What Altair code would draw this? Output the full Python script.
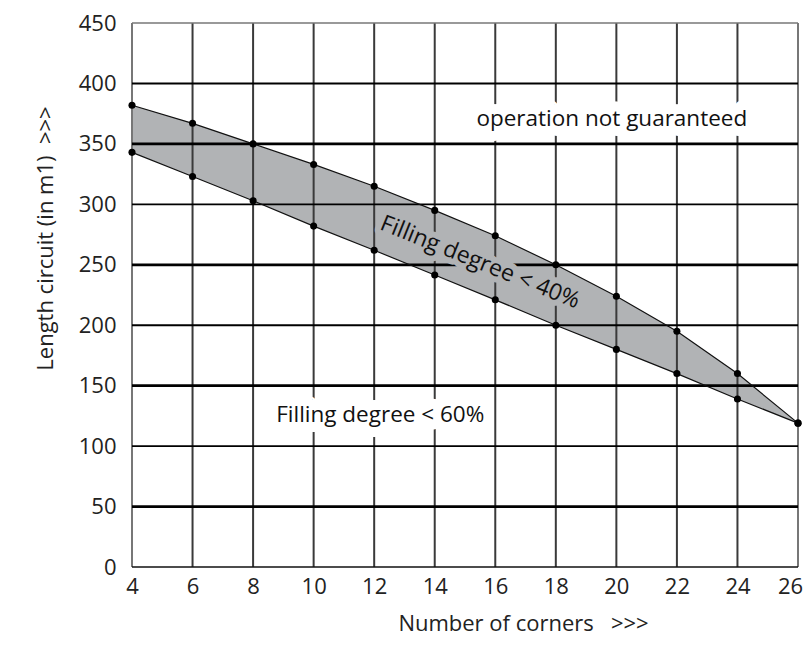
import altair as alt
import pandas as pd

corners = [4, 6, 8, 10, 12, 14, 16, 18, 20, 22, 24, 26]
upper = [382, 367, 350, 333, 315, 295, 274, 250, 224, 195, 160, 119]
lower = [343, 323, 303, 282, 262, 241.5, 221, 200, 180, 160, 139, 119]

x_ticks = [4, 6, 8, 10, 12, 14, 16, 18, 20, 22, 24, 26]
y_ticks = [0, 50, 100, 150, 200, 250, 300, 350, 400, 450]
y_thick = [50, 150, 250, 350]
y_thin = [100, 200, 300, 400]

labels_plain = ["operation not guaranteed", "Filling degree < 60%"]
labels_plain_x = [19.85, 12.2]
labels_plain_y = [371, 126]
label_band = "Filling degree < 40%"
label_band_x = 15.5
label_band_y = 252

FONT = "Open Sans"
FILL = "#b1b3b5"
TXT = 22.5

band = pd.DataFrame({"x": corners, "up": upper, "lo": lower})
pts = pd.DataFrame({"x": corners * 2, "y": upper + lower})

hrules = pd.DataFrame({
    "y": y_thick + y_thin,
    "w": [2.8] * len(y_thick) + [1.9] * len(y_thin),
})
border_df = pd.DataFrame({"y": [0, 450], "c": ["#111", "#777"]})
vrules = pd.DataFrame({
    "x": x_ticks,
    "c": ["#777" if v in (4, 26) else "#3a3a3a" for v in x_ticks],
})
ldf = pd.DataFrame({"t": labels_plain, "x": labels_plain_x, "y": labels_plain_y})
bdf = pd.DataFrame({"t": [label_band], "x": [label_band_x], "y": [label_band_y]})

xs = alt.Scale(domain=[4, 26], nice=False, zero=False)
ys = alt.Scale(domain=[0, 450], nice=False)

xenc = alt.X("x:Q", scale=xs, axis=alt.Axis(
    values=x_ticks, title="Number of corners\u00a0\u00a0\u00a0>>>", grid=False, ticks=False,
    domain=False, labelFontSize=22, labelFont=FONT, labelColor="#222", labelPadding=9,
    labelFlush=False, labelBound=False,
    labelOffset=alt.ExprRef("datum.value == 26 ? -8 : 0"),
    titleFont=FONT, titleFontSize=22, titleFontWeight="normal", titleColor="#222",
    titleX=391, titleY=63, titleAnchor="middle", titleAlign="center",
    titleBaseline="alphabetic"))

yaxis = alt.Axis(
    values=y_ticks, title="Length circuit (in m1)\u00a0\u00a0>>>",
    grid=False, ticks=False, domain=False, labelFontSize=22, labelFont=FONT, labelColor="#222",
    labelPadding=16, labelFlush=False, labelBound=False,
    titleFont=FONT, titleFontSize=22, titleFontWeight="normal", titleColor="#222",
    titleX=-75, titleY=215, titleAngle=-90, titleAlign="center", titleBaseline="bottom")

area = alt.Chart(band).mark_area(color=FILL, opacity=1).encode(
    x=xenc, y=alt.Y("lo:Q", scale=ys, axis=yaxis), y2="up:Q")

vlines = alt.Chart(vrules).mark_rule(strokeWidth=2).encode(
    x=alt.X("x:Q", scale=xs), color=alt.Color("c:N", scale=None))
hlines = alt.Chart(hrules).mark_rule(color="#000").encode(
    y=alt.Y("y:Q", scale=ys), strokeWidth=alt.StrokeWidth("w:Q", scale=None))
borders = alt.Chart(border_df).mark_rule(strokeWidth=1.6).encode(
    y=alt.Y("y:Q", scale=ys), color=alt.Color("c:N", scale=None))

line_up = alt.Chart(band).mark_line(color="#111", strokeWidth=1.2).encode(
    x=alt.X("x:Q", scale=xs), y=alt.Y("up:Q", scale=ys))
line_lo = alt.Chart(band).mark_line(color="#111", strokeWidth=1.2).encode(
    x=alt.X("x:Q", scale=xs), y=alt.Y("lo:Q", scale=ys))

halo_plain = alt.Chart(ldf).mark_text(font=FONT, fontSize=TXT, stroke="white", strokeWidth=20,
                                      color="white", strokeJoin="round").encode(
    x=alt.X("x:Q", scale=xs), y=alt.Y("y:Q", scale=ys), text="t:N")
halo_band = alt.Chart(bdf).mark_text(font=FONT, fontSize=23, stroke=FILL, strokeWidth=12,
                                     color=FILL, angle=22, strokeJoin="round").encode(
    x=alt.X("x:Q", scale=xs), y=alt.Y("y:Q", scale=ys), text="t:N")

points = alt.Chart(pts).mark_circle(color="#000", size=50, opacity=1).encode(
    x=alt.X("x:Q", scale=xs), y=alt.Y("y:Q", scale=ys))

text_plain = alt.Chart(ldf).mark_text(font=FONT, fontSize=TXT, color="#111").encode(
    x=alt.X("x:Q", scale=xs), y=alt.Y("y:Q", scale=ys), text="t:N")
text_band = alt.Chart(bdf).mark_text(font=FONT, fontSize=23, color="#111", angle=22).encode(
    x=alt.X("x:Q", scale=xs), y=alt.Y("y:Q", scale=ys), text="t:N")

chart = alt.layer(
    area, vlines, hlines, borders, line_up, line_lo,
    halo_plain, halo_band, points, text_plain, text_band
).properties(
    width=666, height=544,
    autosize=alt.AutoSizeParams(type="none"),
    padding={"left": 124, "top": 15, "right": 5, "bottom": 70},
).configure_view(stroke=None)

chart.save("out.html", embed_options={"renderer": "svg", "actions": False})
